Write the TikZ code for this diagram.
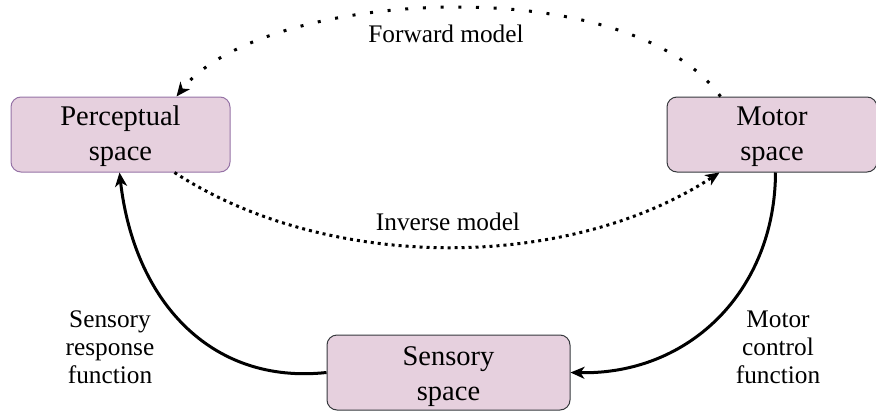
\documentclass[tikz,border=0pt]{standalone}
\usepackage{fontspec}
\newfontfamily\diagfont{Liberation Serif}
\usetikzlibrary{arrows.meta}
\definecolor{boxfill}{HTML}{E6D0DE}
\definecolor{purpleborder}{HTML}{9673A6}
\definecolor{darkborder}{HTML}{36393D}
\tikzset{
  spacebox/.style={draw=darkborder, fill=boxfill, rounded corners=10pt, line width=1pt,
    align=center, inner sep=0pt, font=\diagfont\fontsize{28.5}{35}\selectfont},
  elabel/.style={align=center, inner sep=0pt, font=\diagfont\fontsize{25.3}{28}\selectfont},
  tip/.style={-{Stealth[length=14pt,width=12pt,inset=4pt]}},
  solidarc/.style={tip, line width=3pt},
  fwdarc/.style={tip, line width=3pt, dash pattern=on 3pt off 14.7pt},
  invarc/.style={tip, line width=3pt, dash pattern=on 3pt off 4pt},
}
\begin{document}
\begin{tikzpicture}[x=1pt,y=-1pt]
\useasboundingbox (0,0) rectangle (876,410);
\node[spacebox, draw=purpleborder, minimum width=219pt, minimum height=75pt] (perc) at (120.5,134.5) {\raisebox{-1pt}[24.5pt][10.5pt]{Perceptual}\\\raisebox{-1pt}[24.5pt][10.5pt]{space}};
\node[spacebox, minimum width=210pt, minimum height=75pt] (motor) at (772,134.5) {\raisebox{-1pt}[24.5pt][10.5pt]{Motor}\\\raisebox{-1pt}[24.5pt][10.5pt]{space}};
\node[spacebox, minimum width=243pt, minimum height=75pt] (sens) at (448.5,372.5) {\raisebox{-3pt}[24.5pt][10.5pt]{Sensory}\\\raisebox{-3pt}[24.5pt][10.5pt]{space}};

\draw[fwdarc] ([xshift=54pt]motor.north west) .. controls (627,-33) and (260,-10) .. ([xshift=166pt]perc.north west);
\draw[invarc] ([xshift=164pt]perc.south west) .. controls (327,272) and (567,272) .. ([xshift=53pt]motor.south west);
\draw[solidarc] (sens.west) .. controls (210,385) and (134,300) .. ([xshift=109pt]perc.south west);
\draw[solidarc] ([xshift=109pt]motor.south west) .. controls (775,290) and (690,375) .. (sens.east);

\node[elabel, anchor=base] (fwdl) at (446,42) {Forward model};
\node[elabel, anchor=base] (invl) at (448,230) {Inverse model};
\node[elabel] (srf) at (110,349.5) {\strut Sensory\\\strut response\\\strut function};
\node[elabel] (mcf) at (778,349.5) {\strut Motor\\\strut control\\\strut function};
\end{tikzpicture}
\end{document}
